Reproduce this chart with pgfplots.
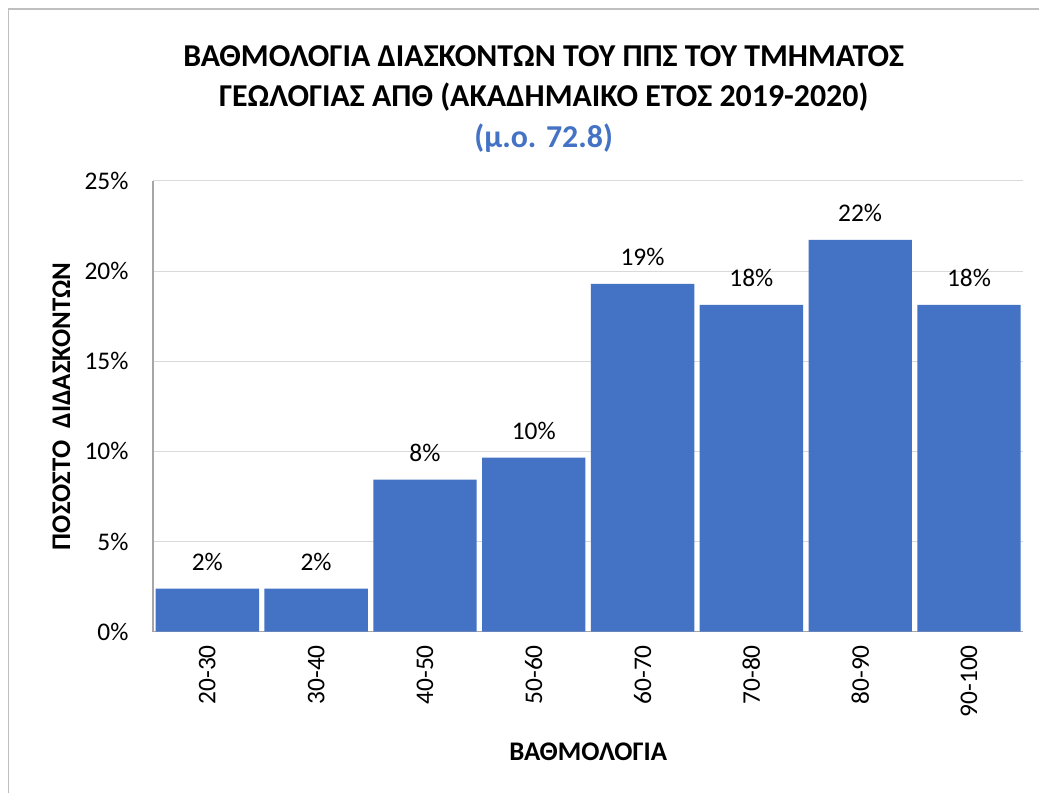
\documentclass[border=0pt]{standalone}
\usepackage{fontspec}
\setmainfont{Carlito}
\usepackage{pgfplots}
\pgfplotsset{compat=1.18}
\definecolor{barblue}{HTML}{4472C4}
\definecolor{gridgray}{HTML}{D9D9D9}
\definecolor{axisgray}{HTML}{A6A6A6}
\definecolor{framegray}{HTML}{BFBFBF}
\pgfplotstableread{
x val
0 2.38
1 2.38
2 8.43
3 9.65
4 19.29
5 18.13
6 21.73
7 18.13
}\datatable
\begin{document}
\begin{tikzpicture}
\fill[white] (-153bp,-161bp) rectangle (887bp,632bp);
\draw[framegray, line width=1.2bp] (-144.5bp,-161bp) -- (-144.5bp,623bp) -- (887bp,623bp);
\begin{axis}[
  width=871bp, height=451bp, scale only axis,
  ymin=0, ymax=25, xmin=-0.5, xmax=7.5,
  ybar, bar width=0.95,
  ytick={0,5,10,15,20,25},
  yticklabel={\pgfmathprintnumber[fixed,precision=0,assume math mode=true]{\tick}\%},
  xtick=data,
  xticklabels={20-30,30-40,40-50,50-60,60-70,70-80,80-90,90-100},
  xticklabel style={rotate=90, anchor=east, xshift=-10bp},
  yticklabel style={anchor=east, xshift=-21bp},
  tick label style={font=\fontsize{25.5}{30}\selectfont},
  major tick length=0pt,
  ymajorgrids, grid style={gridgray, line width=1bp},
  axis x line*=bottom, axis y line*=left,
  axis line style={axisgray, line width=1.2bp},
  nodes near coords={\pgfmathprintnumber[fixed,precision=0,assume math mode=true]{\pgfplotspointmeta}\%},
  nodes near coords style={font=\fontsize{25.5}{30}\selectfont, anchor=base, yshift=18bp, inner sep=0pt},
  xlabel={\bfseries ΒΑΘΜΟΛΟΓΙΑ},
  xlabel style={font=\fontsize{27}{32}\selectfont, at={(axis description cs:0.5,-0.266)}, anchor=center},
  ylabel={\bfseries ΠΟΣΟΣΤΟ\ \ ΔΙΔΑΣΚΟΝΤΩΝ},
  ylabel style={font=\fontsize{27}{32}\selectfont, at={(axis description cs:-0.105,0.5)}, anchor=center},
  clip=false,
]
\addplot[fill=barblue, draw=none] table[x=x, y=val] {\datatable};
\end{axis}
\node[align=center, font=\fontsize{32}{40.5}\selectfont\bfseries] at (391bp,533bp) {ΒΑΘΜΟΛΟΓΙΑ ΔΙΑΣΚΟΝΤΩΝ ΤΟΥ ΠΠΣ ΤΟΥ ΤΜΗΜΑΤΟΣ\\ΓΕΩΛΟΓΙΑΣ ΑΠΘ (ΑΚΑΔΗΜΑΙΚΟ ΕΤΟΣ 2019-2020)\\\textcolor{barblue}{(μ.ο. 72.8)}};
\end{tikzpicture}
\end{document}
